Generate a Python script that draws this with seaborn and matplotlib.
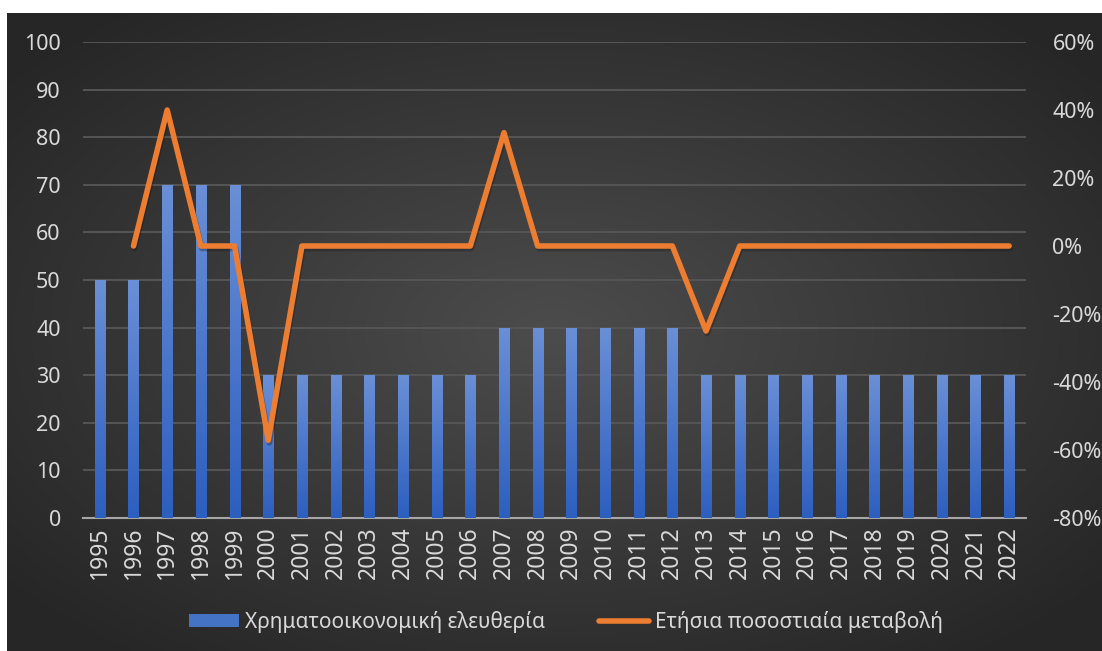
import numpy as np
import matplotlib
matplotlib.use('Agg')
import matplotlib.pyplot as plt
import matplotlib.patheffects as pe
from matplotlib.patches import Patch
from matplotlib.lines import Line2D
from matplotlib.colors import LinearSegmentedColormap
import seaborn as sns

# data
years = [str(y) for y in range(1995, 2023)]
freedom = [50, 50, 70, 70, 70, 30, 30, 30, 30, 30, 30, 30,
           40, 40, 40, 40, 40, 40,
           30, 30, 30, 30, 30, 30, 30, 30, 30, 30]
change_years = years[1:]
change_pct = [0, 40, 0, 0, -57.14, 0, 0, 0, 0, 0, 0, 33.33,
              0, 0, 0, 0, 0, -25, 0, 0, 0, 0, 0, 0, 0, 0, 0]

bar_label = 'Χρηματοοικονομική ελευθερία'
line_label = 'Ετήσια ποσοστιαία μεταβολή'

text_col = '#d9d9d9'
orange = '#ED7D31'
blue = '#4472C4'

sns.set_theme(style='dark')
plt.rcParams['font.family'] = ['Noto Sans', 'DejaVu Sans']

fig = plt.figure(figsize=(11.02, 6.51), dpi=100, facecolor='white')

# dark radial background
bg = fig.add_axes([7 / 1102, 0, 1 - 7 / 1102, 1 - 13 / 651])
gx, gy = np.meshgrid(np.linspace(-1, 1, 400), np.linspace(-1, 1, 240))
r = np.clip(np.sqrt(gx ** 2 + gy ** 2) / 1.3, 0, 1)
bg_cmap = LinearSegmentedColormap.from_list('bg', ['#4c4c4c', '#262626'])
bg.imshow(r, cmap=bg_cmap, aspect='auto', extent=(0, 1, 0, 1))
bg.set_axis_off()

ax = fig.add_axes([83 / 1102, 1 - 518 / 651, 943 / 1102, 476 / 651])
ax.patch.set_alpha(0)

sns.barplot(x=years, y=freedom, ax=ax, color=blue, width=0.3,
            saturation=1, zorder=3)

# vertical gradient on each bar
bar_cmap = LinearSegmentedColormap.from_list('bar', ['#2d5fbf', '#6a8fd6'])
grad = np.linspace(0, 1, 100).reshape(-1, 1)
for p in ax.patches:
    x0, w, h = p.get_x(), p.get_width(), p.get_height()
    im = ax.imshow(grad, cmap=bar_cmap, aspect='auto', origin='lower',
                   extent=(x0, x0 + w, 0, h), zorder=3)
    im.set_clip_path(p)
    p.set_facecolor('none')
    p.set_edgecolor('none')

ax.set_xlim(-0.5, len(years) - 0.5)
ax.set_ylim(0, 100)
ax.set_yticks(range(0, 101, 10))
ax.grid(axis='y', color='#555555', linewidth=1.4, zorder=0)
ax.grid(axis='x', visible=False)
for s in ['top', 'right', 'left']:
    ax.spines[s].set_visible(False)
ax.spines['bottom'].set_color('#a6a6a6')
ax.spines['bottom'].set_linewidth(1.5)
ax.tick_params(axis='y', colors=text_col, labelsize=15.5, length=0, pad=16)
ax.tick_params(axis='x', colors=text_col, labelsize=16.5, length=0, pad=6,
               rotation=90)
ax.set_xlabel('')
ax.set_ylabel('')

ax2 = ax.twinx()
ax2.plot(np.arange(1, len(years)), change_pct, color=orange, linewidth=4,
         solid_capstyle='round', solid_joinstyle='round', zorder=5,
         path_effects=[pe.SimpleLineShadow(offset=(0.8, -1.8), alpha=0.35),
                       pe.Normal()])
ax2.set_ylim(-80, 60)
ax2.set_yticks(range(-80, 61, 20))
ax2.set_yticklabels([f'{v}%' for v in range(-80, 61, 20)])
ax2.grid(False)
for s in ax2.spines.values():
    s.set_visible(False)
ax2.tick_params(axis='y', colors=text_col, labelsize=15.5, length=0, pad=19)

handles = [Patch(facecolor=blue, edgecolor='none'),
           Line2D([0], [0], color=orange, linewidth=4, solid_capstyle='round')]
fig.legend(handles, [bar_label, line_label], loc='center',
           bbox_to_anchor=(566 / 1102, 1 - 622 / 651), ncol=2, frameon=False,
           fontsize=15, labelcolor=text_col, handlelength=2.4,
           handleheight=0.6, handletextpad=0.3, columnspacing=2.6)

fig.savefig('out.png', dpi=100, facecolor=fig.get_facecolor())
